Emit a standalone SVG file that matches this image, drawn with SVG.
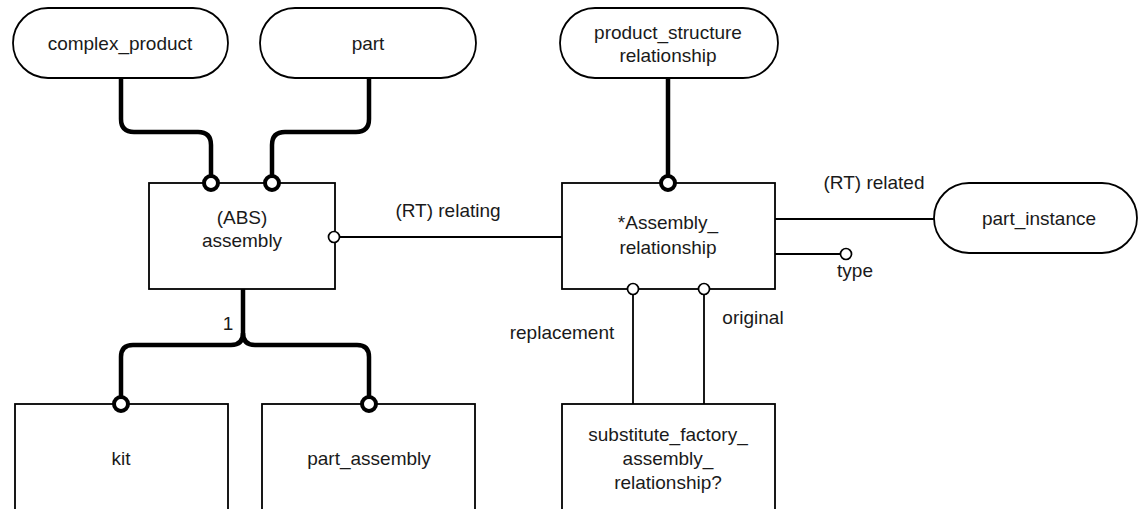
<svg xmlns="http://www.w3.org/2000/svg" width="1138" height="509" viewBox="0 0 1138 509">
<style>
  .box { fill: #fff; stroke: #000; stroke-width: 1.8; }
  .pill { fill: #fff; stroke: #000; stroke-width: 1.8; }
  .t { font-family: "Liberation Sans", Arial, sans-serif; font-size: 19px; fill: #1a1a1a; text-anchor: middle; }
  .thick { fill: none; stroke: #000; stroke-width: 4.5; }
  .thin { fill: none; stroke: #000; stroke-width: 1.8; }
  .bigc { fill: #fff; stroke: #000; stroke-width: 4; }
  .smc { fill: #fff; stroke: #000; stroke-width: 1.7; }
</style>
<rect width="1138" height="509" fill="#fff"/>

<g id="connectors">
  <path class="thick" d="M121,78 V119 Q121,132 134,132 H198 Q211,132 211,145 V183"/>
  <path class="thick" d="M369,78 V119 Q369,132 356,132 H285 Q272,132 272,145 V183"/>
  <path class="thick" d="M668,78 V183"/>
  <path class="thick" d="M243,289 V333 Q243,345 231,345 H133 Q121,345 121,357 V404"/>
  <path class="thick" d="M243,333 Q243,345 255,345 H357 Q369,345 369,357 V404"/>
  <path class="thin" d="M339,237 H562"/>
  <path class="thin" d="M775,219 H934"/>
  <path class="thin" d="M775,254 H840"/>
  <path class="thin" d="M633,294 V404"/>
  <path class="thin" d="M704,294 V404"/>
  <text class="t" x="448" y="217">(RT) relating</text>
  <text class="t" x="874" y="189">(RT) related</text>
  <text class="t" x="855" y="277">type</text>
  <text class="t" x="562" y="339">replacement</text>
  <text class="t" x="753" y="324">original</text>
  <text class="t" x="228" y="330">1</text>
</g>

<g id="complex_product">
  <rect class="pill" x="13" y="8" width="215" height="70" rx="35" ry="35"/>
  <text class="t" x="120" y="50">complex_product</text>
</g>
<g id="part">
  <rect class="pill" x="260" y="8" width="216" height="70" rx="35" ry="35"/>
  <text class="t" x="368" y="50">part</text>
</g>
<g id="product_structure_relationship">
  <rect class="pill" x="560" y="8" width="218" height="70" rx="35" ry="35"/>
  <text class="t" x="668" y="39">product_structure</text>
  <text class="t" x="668" y="62">relationship</text>
</g>
<g id="part_instance">
  <rect class="pill" x="934" y="183" width="203" height="70" rx="35" ry="35"/>
  <text class="t" x="1039" y="225">part_instance</text>
</g>
<g id="assembly">
  <rect class="box" x="149" y="183" width="186" height="106"/>
  <text class="t" x="242" y="224">(ABS)</text>
  <text class="t" x="242" y="247">assembly</text>
</g>
<g id="assembly_relationship">
  <rect class="box" x="562" y="183" width="213" height="106"/>
  <text class="t" x="668" y="229">*Assembly_</text>
  <text class="t" x="668" y="254">relationship</text>
</g>
<g id="kit">
  <rect class="box" x="15" y="404" width="213" height="120"/>
  <text class="t" x="121" y="465">kit</text>
</g>
<g id="part_assembly">
  <rect class="box" x="262" y="404" width="213" height="120"/>
  <text class="t" x="369" y="465">part_assembly</text>
</g>
<g id="substitute_factory_assembly_relationship">
  <rect class="box" x="562" y="404" width="213" height="120"/>
  <text class="t" x="668" y="441">substitute_factory_</text>
  <text class="t" x="668" y="465">assembly_</text>
  <text class="t" x="668" y="489">relationship?</text>
</g>

<g id="end-markers">
  <circle class="bigc" cx="211" cy="183" r="7"/>
  <circle class="bigc" cx="272" cy="183" r="7"/>
  <circle class="bigc" cx="668" cy="183" r="7"/>
  <circle class="bigc" cx="121" cy="404" r="7"/>
  <circle class="bigc" cx="369" cy="404" r="7"/>
  <circle class="smc" cx="334" cy="237" r="5.5"/>
  <circle class="smc" cx="846" cy="254" r="5.5"/>
  <circle class="smc" cx="633" cy="289" r="5.5"/>
  <circle class="smc" cx="704" cy="289" r="5.5"/>
</g>
</svg>
